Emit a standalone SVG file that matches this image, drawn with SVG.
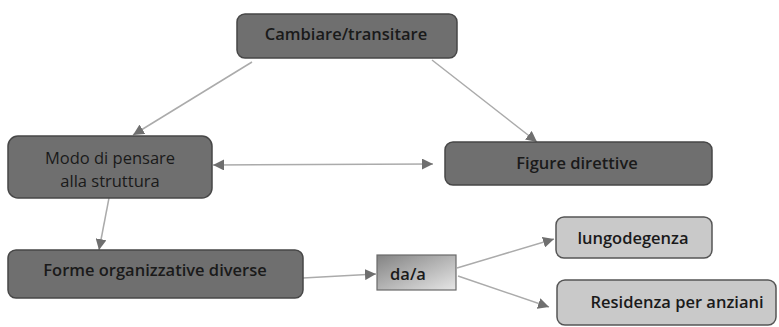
<svg xmlns="http://www.w3.org/2000/svg" width="779" height="327" viewBox="0 0 779 327">
  <style>
    .dark { fill: #6f6f6f; stroke: #474747; stroke-width: 1.5; }
    .light { fill: #c9c9c9; stroke: #555555; stroke-width: 1.5; }
    .lbl { font-family: "Open Sans", "Liberation Sans", sans-serif; font-size: 16.5px; font-weight: 600; fill: #1a1a1a; text-anchor: middle; dominant-baseline: central; }
    .reg { font-weight: 500; }
    .conn { stroke: #ababab; stroke-width: 1.5; fill: none; }
  </style>
  <defs>
    <marker id="arrow" viewBox="0 0 10 10" refX="10" refY="5" markerWidth="11" markerHeight="11" markerUnits="userSpaceOnUse" orient="auto-start-reverse">
      <path d="M0,0 L10,5 L0,10 Z" fill="#6f6f6f"/>
    </marker>
    <linearGradient id="daGrad" x1="0" y1="0" x2="1" y2="1">
      <stop offset="0" stop-color="#838383"/>
      <stop offset="1" stop-color="#e6e6e6"/>
    </linearGradient>
  </defs>

  <rect width="779" height="327" fill="#ffffff"/>

  <g id="connectors">
    <line class="conn" x1="252" y1="62" x2="133" y2="135" marker-end="url(#arrow)"/>
    <line class="conn" x1="432" y1="60" x2="537" y2="142" marker-end="url(#arrow)"/>
    <line class="conn" x1="213" y1="165" x2="433" y2="164" marker-start="url(#arrow)" marker-end="url(#arrow)"/>
    <line class="conn" x1="109" y1="198" x2="99" y2="250" marker-end="url(#arrow)"/>
    <line class="conn" x1="303" y1="278" x2="376" y2="274" marker-end="url(#arrow)"/>
    <line class="conn" x1="457" y1="268" x2="554" y2="239" marker-end="url(#arrow)"/>
    <line class="conn" x1="458" y1="276" x2="549" y2="307" marker-end="url(#arrow)"/>
  </g>

  <g id="cambiare">
    <rect class="dark" x="237" y="14" width="220" height="44" rx="8"/>
    <text class="lbl" x="346" y="33">Cambiare/transitare</text>
  </g>

  <g id="modo">
    <rect class="dark" x="8" y="136" width="204" height="62" rx="10"/>
    <text class="lbl reg" x="110" y="157">Modo di pensare</text>
    <text class="lbl reg" x="110" y="180">alla struttura</text>
  </g>

  <g id="figure">
    <rect class="dark" x="445" y="142" width="267" height="43" rx="8"/>
    <text class="lbl" x="577" y="162">Figure direttive</text>
  </g>

  <g id="forme">
    <rect class="dark" x="8" y="250" width="295" height="48" rx="8"/>
    <text class="lbl" x="155" y="269">Forme organizzative diverse</text>
  </g>

  <g id="da-a">
    <rect x="377" y="255" width="79" height="35" fill="url(#daGrad)" stroke="#6a6a6a" stroke-width="1.2"/>
    <text class="lbl" x="408" y="273">da/a</text>
  </g>

  <g id="lungodegenza">
    <rect class="light" x="556" y="217" width="156" height="41" rx="8"/>
    <text class="lbl" x="633" y="237">lungodegenza</text>
  </g>

  <g id="residenza">
    <rect class="light" x="557" y="280" width="219" height="45" rx="8"/>
    <text class="lbl" x="677" y="301">Residenza per anziani</text>
  </g>
</svg>
